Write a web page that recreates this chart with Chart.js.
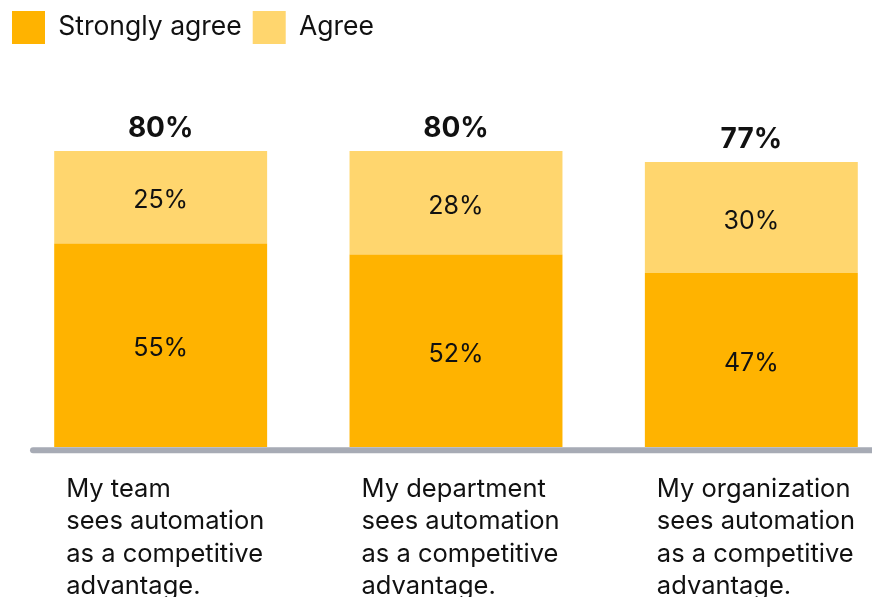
<!DOCTYPE html>
<html>
<head>
<meta charset="utf-8">
<script src="https://cdn.jsdelivr.net/npm/chart.js@4.4.1/dist/chart.umd.min.js"></script>
<style>
  html, body { margin: 0; padding: 0; background: #ffffff; overflow: hidden; }
  #wrap { width: 872px; height: 597px; overflow: hidden; }
  canvas { display: block; }
</style>
</head>
<body>
<div id="wrap"><canvas id="chart" width="900" height="597" style="width:900px;height:597px"></canvas></div>
<script>
// Survey: how automation is seen at each level of the company
const categories = [
  ['My team', 'sees automation', 'as a competitive', 'advantage.'],
  ['My department', 'sees automation', 'as a competitive', 'advantage.'],
  ['My organization', 'sees automation', 'as a competitive', 'advantage.']
];
const stronglyAgree = [55, 52, 47];
const agree = [25, 28, 30];

const FONT = 'Inter, "Noto Sans", sans-serif';
const STRONG_COLOR = '#FFB300';
const AGREE_COLOR = '#FFD66E';

// Segment values, totals above each stack, category captions and the base rule
const annotations = {
  id: 'annotations',
  afterDatasetsDraw(chart) {
    const ctx = chart.ctx;
    const y = chart.scales.y;
    ctx.save();

    // base rule under the bars
    const baseY = y.getPixelForValue(0) + 3.3;
    ctx.strokeStyle = '#A7ABB5';
    ctx.lineWidth = 6;
    ctx.lineCap = 'round';
    ctx.beginPath();
    ctx.moveTo(33, baseY);
    ctx.lineTo(chart.width + 10, baseY);
    ctx.stroke();

    // value inside each segment
    ctx.fillStyle = '#111111';
    ctx.textAlign = 'center';
    ctx.textBaseline = 'middle';
    ctx.font = '400 25px ' + FONT;
    chart.data.datasets.forEach((ds, di) => {
      const meta = chart.getDatasetMeta(di);
      meta.data.forEach((bar, i) => {
        const mid = (bar.y + bar.base) / 2 + 3.5;
        ctx.fillText(ds.data[i] + '%', bar.x, mid);
      });
    });

    // total above each stack
    const topMeta = chart.getDatasetMeta(1);
    ctx.font = '700 28px ' + FONT;
    ctx.textBaseline = 'alphabetic';
    topMeta.data.forEach((bar, i) => {
      const total = stronglyAgree[i] + agree[i];
      ctx.fillText(total + '%', bar.x, bar.y - 14);
    });

    // category captions, left aligned under each bar
    ctx.font = '400 25.5px ' + FONT;
    ctx.textAlign = 'left';
    topMeta.data.forEach((bar, i) => {
      const left = bar.x - bar.width / 2 + 12;
      categories[i].forEach((line, li) => {
        ctx.fillText(line, left, y.getPixelForValue(0) + 50 + li * 32.4);
      });
    });
    ctx.restore();
  }
};

new Chart(document.getElementById('chart'), {
  type: 'bar',
  data: {
    labels: categories.map(c => c.join(' ')),
    datasets: [
      { label: 'Strongly agree', data: stronglyAgree, backgroundColor: STRONG_COLOR, borderWidth: 0 },
      { label: 'Agree', data: agree, backgroundColor: AGREE_COLOR, borderWidth: 0 }
    ]
  },
  options: {
    responsive: false,
    animation: false,
    devicePixelRatio: 1,
    layout: { padding: { left: 1, right: 1, top: 0, bottom: 150 } },
    datasets: { bar: { categoryPercentage: 1, barPercentage: 0.721 } },
    scales: {
      x: { stacked: true, display: false },
      y: {
        stacked: true,
        min: 0,
        max: 106.2,
        grid: { display: false },
        border: { display: false },
        ticks: { display: false },
        // an empty gutter left of the plot
        afterFit(scale) { scale.width = 12; }
      }
    },
    plugins: {
      legend: {
        position: 'top',
        align: 'start',
        labels: {
          boxWidth: 33,
          boxHeight: 33,
          padding: 11,
          color: '#111111',
          font: { family: FONT, size: 26.5, weight: '400' }
        }
      },
      tooltip: { enabled: false }
    }
  },
  plugins: [annotations]
});
</script>
</body>
</html>
